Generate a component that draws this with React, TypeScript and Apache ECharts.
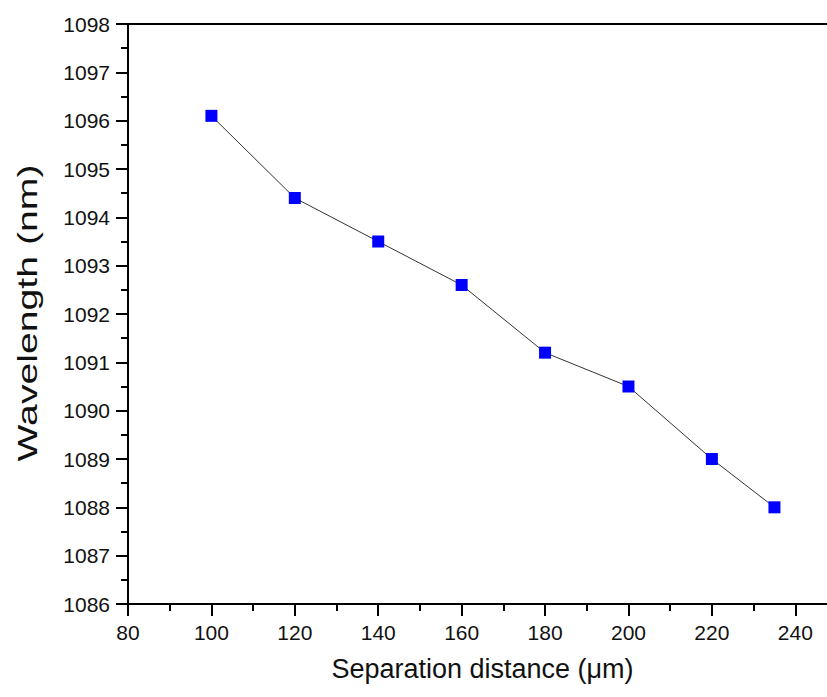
import React, { useEffect, useRef } from "react";
import * as echarts from "echarts";

const separation = [100, 120, 140, 160, 180, 200, 220, 235];
const wavelength = [1096.1, 1094.4, 1093.5, 1092.6, 1091.2, 1090.5, 1089.0, 1088.0];

const xTitle = "Separation distance (\u03bcm)";
const yTitle = "Wavelength (nm)";

export default function App() {
  const ref = useRef<HTMLDivElement>(null);
  useEffect(() => {
    document.body.style.margin = "0";
    const chart = echarts.init(ref.current!, null, { renderer: "svg" });
    const font = "'Liberation Sans', Arial, sans-serif";
    const axisCommon = {
      axisLine: { show: true, lineStyle: { color: "#000", width: 2 } },
      axisTick: { show: true, inside: false, length: 12, lineStyle: { color: "#000", width: 2 } },
      minorTick: { show: true, splitNumber: 2, length: 7, lineStyle: { color: "#000", width: 2 } },
      splitLine: { show: false },
      nameTextStyle: { color: "#111", fontSize: 27, fontFamily: font },
    };
    const label = {
      color: "#111",
      fontSize: 21,
      fontFamily: font,
      formatter: (v: number) => String(v),
    };
    chart.setOption({
      animation: false,
      backgroundColor: "#fff",
      grid: {
        left: 128,
        right: 0,
        top: 24,
        bottom: 93,
        show: true,
        borderColor: "#000",
        borderWidth: 2,
        containLabel: false,
      },
      xAxis: {
        type: "value",
        min: 80,
        max: 250,
        interval: 20,
        name: xTitle,
        nameLocation: "middle",
        nameGap: 51,
        ...axisCommon,
        axisLabel: { ...label, margin: 18, showMaxLabel: false },
      },
      yAxis: {
        type: "value",
        min: 1086,
        max: 1098,
        interval: 1,
        ...axisCommon,
        axisLabel: { ...label, margin: 18 },
      },
      graphic: [
        {
          type: "text",
          x: 27,
          y: 313,
          rotation: Math.PI / 2,
          scaleX: 1.4,
          style: {
            text: yTitle,
            fontSize: 28,
            fontFamily: font,
            fill: "#111",
            align: "center",
            verticalAlign: "middle",
          },
        },
      ],
      series: [
        {
          type: "line",
          data: separation.map((x, i) => [x, wavelength[i]]),
          symbol: "rect",
          symbolSize: 12,
          itemStyle: { color: "#0000ff" },
          lineStyle: { color: "#333", width: 1 },
        },
      ],
    });
    return () => chart.dispose();
  }, []);
  return (
    <div style={{ width: 827, height: 697, overflow: "hidden", position: "absolute", left: 0, top: 0 }}>
      <div ref={ref} style={{ width: 837, height: 697 }} />
    </div>
  );
}
